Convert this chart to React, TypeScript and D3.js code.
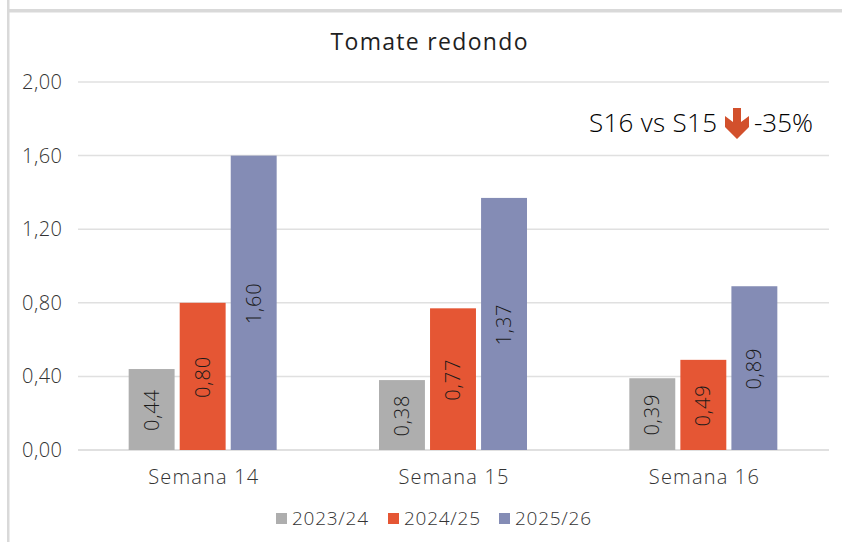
import React from "react";
import * as d3 from "d3";

const categories = ["Semana 14", "Semana 15", "Semana 16"];
const seriesNames = ["2023/24", "2024/25", "2025/26"];
const values2324 = [0.44, 0.38, 0.39];
const values2425 = [0.8, 0.77, 0.49];
const values2526 = [1.6, 1.37, 0.89];
const yTicks = [0, 0.4, 0.8, 1.2, 1.6, 2.0];
const colors = ["#aeaeae", "#e55634", "#848cb5"];
const seriesValues = [values2324, values2425, values2526];

const FONT = "'Open Sans', Lato, sans-serif";
const fmt = (v: number) => v.toFixed(2).replace(".", ",");

export default function App() {
  const x = d3.scaleBand<string>().domain(categories).range([78, 829]);
  const y = d3.scaleLinear().domain([0, 2]).range([450, 82]);
  const inner = d3.scaleBand<string>().domain(seriesNames).range([-74.5, 73.5]).paddingInner(0.1);
  const legendX = [276, 388, 499];

  return (
    <svg width={842} height={542} style={{ position: "absolute", left: 0, top: 0, background: "#fff" }} fontFamily={FONT}>
      <rect x={7} y={0} width={2.5} height={542} fill="#d9d9d9" />
      <rect x={7} y={9} width={835} height={3.5} fill="#d9d9d9" />
      <text x={429} y={50} textAnchor="middle" fontSize={23} fill="#1f1f1f" textLength={197} lengthAdjust="spacing">Tomate redondo</text>
      {yTicks.map((t) => (
        <g key={t}>
          <line x1={78} x2={829} y1={y(t)} y2={y(t)} stroke="#e0e0e0" strokeWidth={t === 0 ? 2 : 1.5} />
          <text x={62} y={y(t) + 7} textAnchor="end" fontSize={20} fontWeight={300} fill="#333333" textLength={40}>{fmt(t)}</text>
        </g>
      ))}
      {categories.map((c, ci) => {
        const cx = x(c)! + x.bandwidth() / 2;
        return (
          <g key={c}>
            {seriesNames.map((s, si) => {
              const v = seriesValues[si][ci];
              const bx = cx + inner(s)!;
              const bw = inner.bandwidth();
              const lx = bx + bw / 2;
              const ly = y(v / 2);
              return (
                <g key={s}>
                  <rect x={bx} y={y(v)} width={bw} height={y(0) - y(v)} fill={colors[si]} />
                  <text transform={`translate(${lx + 7},${ly + 1}) rotate(-90)`} textAnchor="middle" fontSize={20} fontWeight={300} fill="#1a1a1a" textLength={41}>{fmt(v)}</text>
                </g>
              );
            })}
            <text x={cx} y={484} textAnchor="middle" fontSize={20} fontWeight={300} fill="#333333" textLength={110}>{c}</text>
          </g>
        );
      })}
      {seriesNames.map((s, i) => (
        <g key={s}>
          <rect x={legendX[i]} y={513} width={11} height={11} fill={colors[i]} />
          <text x={legendX[i] + 16} y={525} fontSize={19} fontWeight={300} fill="#333333" textLength={76}>{s}</text>
        </g>
      ))}
      <text x={589} y={132} fontSize={26} fontWeight={300} fill="#000000" textLength={128}>S16 vs S15</text>
      <path d="M733 108 H741 V122 L749 116 V127 L737 139 L725 127 V116 L733 122 Z" fill="#d2502c" />
      <text x={754} y={132} fontSize={26} fontWeight={300} fill="#000000" textLength={59}>-35%</text>
    </svg>
  );
}
